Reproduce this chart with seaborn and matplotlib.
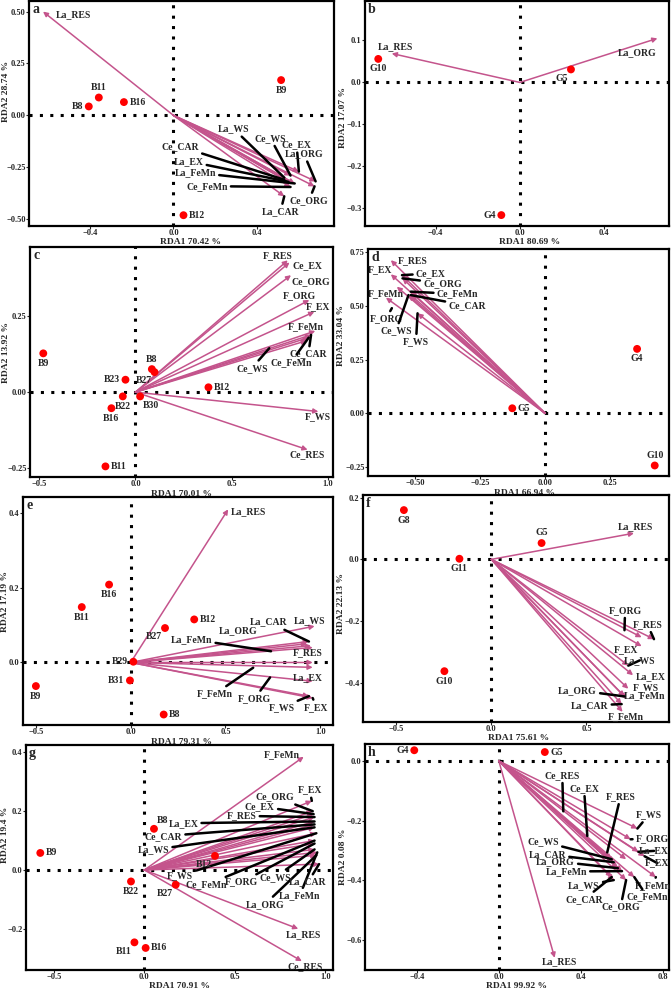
import matplotlib
matplotlib.use('Agg')
import matplotlib.pyplot as plt
import seaborn as sns
import pandas as pd

sns.set_style('white')
plt.rcParams['font.family'] = ['Liberation Serif', 'DejaVu Serif']
plt.rcParams['font.weight'] = 'bold'

ARROW = '#C4548C'

# ---------------- data ----------------
# panel a
a_sites = ['B8', 'B11', 'B16', 'B9', 'B12']
a_site_x = [-0.405, -0.357, -0.237, 0.515, 0.048]
a_site_y = [0.043, 0.086, 0.064, 0.170, -0.481]
a_vars = ['La_RES', 'La_WS', 'Ce_WS', 'Ce_EX', 'La_ORG', 'Ce_CAR', 'La_EX', 'La_FeMn', 'Ce_FeMn', 'Ce_ORG', 'La_CAR']
a_var_x = [-0.624, 0.53, 0.56, 0.60, 0.68, 0.53, 0.55, 0.58, 0.56, 0.675, 0.53]
a_var_y = [0.50, -0.30, -0.29, -0.271, -0.318, -0.31, -0.32, -0.328, -0.345, -0.342, -0.39]

# panel b
b_sites = ['G10', 'G5', 'G4']
b_site_x = [-0.673, 0.243, -0.088]
b_site_y = [0.056, 0.031, -0.316]
b_vars = ['La_RES', 'La_ORG']
b_var_x = [-0.609, 0.654]
b_var_y = [0.069, 0.105]

# panel c
c_sites = ['B9', 'B8', 'B27', 'B23', 'B12', 'B22', 'B30', 'B16', 'B11']
c_site_x = [-0.479, 0.085, 0.099, -0.052, 0.379, -0.066, 0.024, -0.125, -0.156]
c_site_y = [0.128, 0.076, 0.066, 0.041, 0.016, -0.014, -0.014, -0.053, -0.245]
c_vars = ['F_RES', 'Ce_EX', 'Ce_ORG', 'F_ORG', 'F_EX', 'F_FeMn', 'Ce_CAR', 'Ce_FeMn', 'Ce_WS', 'F_WS', 'Ce_RES']
c_var_x = [0.791, 0.80, 0.808, 0.903, 0.929, 0.934, 0.912, 0.90, 0.89, 0.95, 0.894]
c_var_y = [0.435, 0.428, 0.386, 0.304, 0.265, 0.202, 0.189, 0.18, 0.17, -0.064, -0.19]

# panel d
d_sites = ['G5', 'G4', 'G10']
d_site_x = [-0.126, 0.355, 0.423]
d_site_y = [0.023, 0.30, -0.244]
d_vars = ['F_RES', 'F_EX', 'Ce_EX', 'Ce_ORG', 'F_FeMn', 'Ce_FeMn', 'Ce_CAR', 'F_ORG', 'Ce_WS', 'F_WS']
d_var_x = [-0.594, -0.594, -0.551, -0.549, -0.571, -0.517, -0.517, -0.613, -0.526, -0.491]
d_var_y = [0.714, 0.648, 0.644, 0.629, 0.59, 0.567, 0.551, 0.539, 0.551, 0.466]

# panel e
e_sites = ['B16', 'B11', 'B27', 'B12', 'B29', 'B31', 'B9', 'B8']
e_site_x = [-0.114, -0.258, 0.181, 0.335, 0.014, -0.004, -0.5, 0.174]
e_site_y = [0.208, 0.148, 0.092, 0.115, 0.002, -0.048, -0.063, -0.139]
e_vars = ['La_RES', 'La_WS', 'La_CAR', 'La_ORG', 'La_FeMn', 'F_RES', 'F_FeMn', 'F_ORG', 'La_EX', 'F_WS', 'F_EX']
e_var_x = [0.514, 0.97, 0.94, 0.93, 0.95, 0.96, 0.96, 0.96, 0.96, 0.94, 0.96]
e_var_y = [0.409, 0.097, 0.056, 0.05, 0.045, 0.04, 0.0, -0.013, -0.05, -0.09, -0.095]

# panel f
f_sites = ['G8', 'G5', 'G11', 'G10']
f_site_x = [-0.46, 0.264, -0.168, -0.247]
f_site_y = [0.16, 0.053, 0.002, -0.363]
f_vars = ['La_RES', 'F_ORG', 'F_RES', 'F_EX', 'La_WS', 'La_EX', 'F_WS', 'La_FeMn', 'La_ORG', 'La_CAR', 'F_FeMn']
f_var_x = [0.75, 0.79, 0.855, 0.79, 0.72, 0.745, 0.72, 0.71, 0.70, 0.685, 0.69]
f_var_y = [0.085, -0.253, -0.259, -0.282, -0.345, -0.376, -0.42, -0.452, -0.445, -0.47, -0.495]

# panel g
g_sites = ['B8', 'B9', 'B12', 'B22', 'B27', 'B11', 'B16']
g_site_x = [0.053, -0.575, 0.39, -0.074, 0.173, -0.055, 0.007]
g_site_y = [0.14, 0.058, 0.048, -0.039, -0.05, -0.246, -0.265]
g_vars = ['F_FeMn', 'F_EX', 'Ce_ORG', 'Ce_EX', 'F_RES', 'La_EX', 'Ce_CAR', 'La_WS', 'F_WS', 'Ce_FeMn',
          'F_ORG', 'Ce_WS', 'La_FeMn', 'La_ORG', 'La_CAR', 'La_RES', 'Ce_RES']
g_var_x = [0.88, 0.925, 0.93, 0.935, 0.94, 0.94, 0.94, 0.94, 0.95, 0.94, 0.94, 0.94, 0.955, 0.95, 0.965, 0.85, 0.87]
g_var_y = [0.385, 0.235, 0.2, 0.19, 0.18, 0.165, 0.155, 0.145, 0.125, 0.10, 0.09, 0.07, 0.06, 0.05, 0.02, -0.20, -0.31]

# panel h
h_sites = ['G4', 'G5']
h_site_x = [-0.412, 0.224]
h_site_y = [0.036, 0.03]
h_vars = ['Ce_RES', 'Ce_EX', 'F_RES', 'F_WS', 'F_ORG', 'La_EX', 'F_EX', 'F_FeMn', 'Ce_FeMn', 'Ce_ORG',
          'Ce_CAR', 'La_WS', 'La_FeMn', 'La_ORG', 'La_CAR', 'Ce_WS', 'La_RES']
h_var_x = [0.56, 0.58, 0.62, 0.675, 0.642, 0.68, 0.71, 0.765, 0.66, 0.62, 0.55, 0.56, 0.60, 0.58, 0.56, 0.55, 0.272]
h_var_y = [-0.34, -0.36, -0.33, -0.227, -0.263, -0.305, -0.32, -0.39, -0.39, -0.40, -0.39, -0.40, -0.37, -0.36,
           -0.34, -0.33, -0.661]

# ---------------- layout (label placement, frames) ----------------
# site label side
a_site_pos = {'B8': 'left', 'B11': 'above', 'B16': 'right', 'B9': 'below', 'B12': 'right'}
b_site_pos = {'G10': 'below', 'G5': 'below_left', 'G4': 'left'}
c_site_pos = {'B9': 'below', 'B8': 'above', 'B27': 'below_left', 'B23': 'left', 'B12': 'right',
              'B22': 'below', 'B30': 'below_right', 'B16': 'below', 'B11': 'right'}
d_site_pos = {'G5': 'right', 'G4': 'below', 'G10': 'above'}
e_site_pos = {'B16': 'below', 'B11': 'below', 'B27': 'below_left', 'B12': 'right', 'B29': 'left',
              'B31': 'left', 'B9': 'below', 'B8': 'right'}
f_site_pos = {'G8': 'below', 'G5': 'above', 'G11': 'below', 'G10': 'below'}
g_site_pos = {'B8': 'above_right', 'B9': 'right', 'B12': 'below_left', 'B22': 'below', 'B27': 'below_left',
              'B11': 'below_left', 'B16': 'right'}
h_site_pos = {'G4': 'left', 'G5': 'right'}

# arrow label: (x, y, leader?, optional leader end)
a_lab = {'La_RES': (-0.48, 0.485, False), 'La_WS': (0.288, -0.065, True), 'Ce_WS': (0.464, -0.11, True),
         'Ce_EX': (0.589, -0.142, True), 'La_ORG': (0.624, -0.185, True), 'Ce_CAR': (0.032, -0.15, True),
         'La_EX': (0.072, -0.221, True), 'La_FeMn': (0.104, -0.275, True), 'Ce_FeMn': (0.16, -0.341, True),
         'Ce_ORG': (0.648, -0.41, True), 'La_CAR': (0.512, -0.463, True)}
b_lab = {'La_RES': (-0.59, 0.085, False), 'La_ORG': (0.558, 0.072, False)}
c_lab = {'F_RES': (0.737, 0.452, False), 'Ce_EX': (0.893, 0.417, False), 'Ce_ORG': (0.91, 0.364, False),
         'F_ORG': (0.851, 0.318, False), 'F_EX': (0.946, 0.282, False), 'F_FeMn': (0.886, 0.216, False),
         'Ce_CAR': (0.898, 0.126, True), 'Ce_FeMn': (0.808, 0.099, True),
         'Ce_WS': (0.604, 0.079, True, (0.695, 0.145)), 'F_WS': (0.946, -0.082, False),
         'Ce_RES': (0.894, -0.206, False)}
d_lab = {'F_RES': (-0.509, 0.711, False), 'F_EX': (-0.637, 0.668, False), 'Ce_EX': (-0.44, 0.652, True),
         'Ce_ORG': (-0.395, 0.606, True), 'F_FeMn': (-0.613, 0.559, False), 'Ce_FeMn': (-0.337, 0.556, True),
         'Ce_CAR': (-0.30, 0.502, True), 'F_ORG': (-0.613, 0.44, True, (-0.59, 0.49)),
         'Ce_WS': (-0.574, 0.384, True), 'F_WS': (-0.497, 0.334, True)}
e_lab = {'La_RES': (0.62, 0.404, False), 'La_WS': (0.944, 0.113, False), 'La_CAR': (0.725, 0.108, True),
         'La_ORG': (0.567, 0.086, False), 'La_FeMn': (0.321, 0.062, True, (0.74, 0.03)),
         'F_RES': (0.935, 0.026, False), 'F_FeMn': (0.444, -0.084, True, (0.646, -0.014)),
         'F_ORG': (0.654, -0.096, True, (0.735, -0.04)), 'La_EX': (0.935, -0.041, False),
         'F_WS': (0.795, -0.12, True), 'F_EX': (0.979, -0.12, True)}
f_lab = {'La_RES': (0.759, 0.105, False), 'F_ORG': (0.703, -0.165, True, (0.70, -0.23)),
         'F_RES': (0.82, -0.211, True), 'F_EX': (0.706, -0.293, False), 'La_WS': (0.78, -0.328, True),
         'La_EX': (0.837, -0.382, False), 'F_WS': (0.811, -0.417, False), 'La_FeMn': (0.803, -0.444, False),
         'La_ORG': (0.453, -0.425, True), 'La_CAR': (0.517, -0.474, True), 'F_FeMn': (0.706, -0.512, False)}
g_lab = {'F_FeMn': (0.757, 0.391, False), 'F_EX': (0.913, 0.272, True), 'Ce_ORG': (0.721, 0.249, True),
         'Ce_EX': (0.638, 0.216, True), 'F_RES': (0.537, 0.184, True), 'La_EX': (0.215, 0.159, True),
         'Ce_CAR': (0.105, 0.115, True), 'La_WS': (0.05, 0.069, True), 'F_WS': (0.197, -0.019, True),
         'Ce_FeMn': (0.344, -0.05, True), 'F_ORG': (0.537, -0.041, True), 'Ce_WS': (0.721, -0.025, True),
         'La_CAR': (0.904, -0.041, True), 'La_FeMn': (0.858, -0.087, True), 'La_ORG': (0.665, -0.117, True),
         'La_RES': (0.877, -0.22, False), 'Ce_RES': (0.886, -0.327, False)}
h_lab = {'Ce_RES': (0.309, -0.048, True, (0.314, -0.169)), 'Ce_EX': (0.415, -0.092, True, (0.431, -0.252)),
         'F_RES': (0.593, -0.119, True, (0.528, -0.307)), 'F_WS': (0.732, -0.18, True),
         'F_ORG': (0.748, -0.26, True), 'La_EX': (0.756, -0.302, True), 'F_EX': (0.772, -0.343, True),
         'F_FeMn': (0.748, -0.418, True), 'Ce_FeMn': (0.724, -0.457, True), 'Ce_ORG': (0.593, -0.49, True),
         'Ce_CAR': (0.415, -0.465, True), 'La_WS': (0.415, -0.418, True), 'La_FeMn': (0.328, -0.371, True),
         'La_ORG': (0.276, -0.337, True), 'La_CAR': (0.236, -0.313, True), 'Ce_WS': (0.216, -0.271, True),
         'La_RES': (0.293, -0.675, False)}

# frame = (left, top, right, bottom) in pixels; xlab = x fraction of the x title;
# ylab = (px left of frame, y fraction)
panels = [
    dict(letter='a', frame=(29, 1, 334, 226), xlim=(-0.691, 0.768), ylim=(-0.533, 0.551),
         xt=[-0.4, 0.0, 0.4], xf='{:.1f}', yt=[-0.5, -0.25, 0.0, 0.25, 0.5], yf='{:.2f}',
         xl='RDA1 70.42 %', yl='RDA2 28.74 %', xlab=0.53, ylab=(23, 0.6),
         sites=(a_sites, a_site_x, a_site_y, a_site_pos), vars=(a_vars, a_var_x, a_var_y, a_lab)),
    dict(letter='b', frame=(365, 1, 669, 226), xlim=(-0.736, 0.709), ylim=(-0.342, 0.194),
         xt=[-0.4, 0.0, 0.4], xf='{:.1f}', yt=[-0.3, -0.2, -0.1, 0.0, 0.1], yf='{:.1f}',
         xl='RDA1 80.69 %', yl='RDA2 17.07 %', xlab=0.54, ylab=(22, 0.48),
         sites=(b_sites, b_site_x, b_site_y, b_site_pos), vars=(b_vars, b_var_x, b_var_y, b_lab)),
    dict(letter='c', frame=(30, 247, 333, 477), xlim=(-0.548, 1.026), ylim=(-0.28, 0.479),
         xt=[-0.5, 0.0, 0.5, 1.0], xf='{:.1f}', yt=[-0.25, 0.0, 0.25], yf='{:.2f}',
         xl='RDA1 70.01 %', yl='RDA2 13.92 %', xlab=0.5, ylab=(24, 0.54),
         sites=(c_sites, c_site_x, c_site_y, c_site_pos), vars=(c_vars, c_var_x, c_var_y, c_lab)),
    dict(letter='d', frame=(368, 249, 669, 476), xlim=(-0.682, 0.478), ylim=(-0.293, 0.766),
         xt=[-0.5, -0.25, 0.0, 0.25], xf='{:.2f}', yt=[-0.25, 0.0, 0.25, 0.5, 0.75], yf='{:.2f}',
         xl='RDA1 66.94 %', yl='RDA2 33.04 %', xlab=0.52, ylab=(27, 0.62),
         sites=(d_sites, d_site_x, d_site_y, d_site_pos), vars=(d_vars, d_var_x, d_var_y, d_lab)),
    dict(letter='e', frame=(23, 497, 333, 725), xlim=(-0.568, 1.067), ylim=(-0.167, 0.442),
         xt=[-0.5, 0.0, 0.5, 1.0], xf='{:.1f}', yt=[0.0, 0.2, 0.4], yf='{:.1f}',
         xl='RDA1 79.31 %', yl='RDA2 17.19 %', xlab=0.51, ylab=(18, 0.54),
         sites=(e_sites, e_site_x, e_site_y, e_site_pos), vars=(e_vars, e_var_x, e_var_y, e_lab)),
    dict(letter='f', frame=(363, 495, 669, 722), xlim=(-0.675, 0.934), ylim=(-0.528, 0.209),
         xt=[-0.5, 0.0, 0.5], xf='{:.1f}', yt=[-0.4, -0.2, 0.0, 0.2], yf='{:.1f}',
         xl='RDA1 75.61 %', yl='RDA2 22.13 %', xlab=0.51, ylab=(22, 0.52),
         sites=(f_sites, f_site_x, f_site_y, f_site_pos), vars=(f_vars, f_var_x, f_var_y, f_lab)),
    dict(letter='g', frame=(26, 745, 333, 970), xlim=(-0.654, 1.042), ylim=(-0.34, 0.425),
         xt=[-0.5, 0.0, 0.5, 1.0], xf='{:.1f}', yt=[-0.2, 0.0, 0.2, 0.4], yf='{:.1f}',
         xl='RDA1 70.91 %', yl='RDA2 19.4 %', xlab=0.5, ylab=(21, 0.6),
         sites=(g_sites, g_site_x, g_site_y, g_site_pos), vars=(g_vars, g_var_x, g_var_y, g_lab)),
    dict(letter='h', frame=(365, 744, 669, 970), xlim=(-0.652, 0.829), ylim=(-0.702, 0.057),
         xt=[-0.4, 0.0, 0.4, 0.8], xf='{:.1f}', yt=[-0.6, -0.4, -0.2, 0.0], yf='{:.1f}',
         xl='RDA1 99.92 %', yl='RDA2 0.08 %', xlab=0.5, ylab=(22, 0.5),
         sites=(h_sites, h_site_x, h_site_y, h_site_pos), vars=(h_vars, h_var_x, h_var_y, h_lab)),
]

SIDE = {'above': (0, 4, 'center', 'bottom'), 'below': (0, -4, 'center', 'top'),
        'right': (4, 0, 'left', 'center'), 'left': (-4, 0, 'right', 'center'),
        'below_left': (-2, -3, 'right', 'top'), 'below_right': (2, -3, 'left', 'top'),
        'above_right': (2, 3, 'left', 'bottom')}

W, H = 672, 993
fig = plt.figure(figsize=(W / 100, H / 100), dpi=100)


def fmt(v, f):
    s = f.format(v)
    if s.startswith('-0') and float(s) == 0:
        s = s[1:]
    return s.replace('-', '\u2212')


for p in panels:
    l, t, r, b = p['frame']
    ax = fig.add_axes([l / W, 1 - b / H, (r - l) / W, (b - t) / H])
    ax.set_xlim(*p['xlim'])
    ax.set_ylim(*p['ylim'])

    # dotted zero lines
    ax.axhline(0, color='black', ls=(0, (1, 2.4)), lw=2.2, zorder=1)
    ax.axvline(0, color='black', ls=(0, (1, 2.4)), lw=2.2, zorder=1)

    # arrows + labels
    names, vx, vy, lab = p['vars']
    for n, x, y in zip(names, vx, vy):
        ax.annotate('', xy=(x, y), xytext=(0, 0),
                    arrowprops=dict(arrowstyle='-|>', color=ARROW, lw=1.1, mutation_scale=7,
                                    shrinkA=0, shrinkB=0), zorder=3)
    for n, x, y in zip(names, vx, vy):
        spec = lab[n]
        lx, ly, lead = spec[0], spec[1], spec[2]
        if lead:
            end = spec[3] if len(spec) > 3 else (x, y)
            ax.annotate(n, xy=end, xytext=(lx, ly), ha='center', va='center', fontsize=7,
                        fontweight='bold', zorder=4,
                        arrowprops=dict(arrowstyle='-', color='black', lw=1.8,
                                        shrinkA=0, shrinkB=0))
        else:
            ax.text(lx, ly, n, ha='center', va='center', fontsize=7, fontweight='bold', zorder=4)

    # sites
    sn, sx, sy, spos = p['sites']
    df = pd.DataFrame({'site': sn, 'x': sx, 'y': sy})
    sns.scatterplot(data=df, x='x', y='y', ax=ax, color='red', s=32, edgecolor='none',
                    zorder=5, legend=False)
    for n, x, y in zip(sn, sx, sy):
        dx, dy, ha, va = SIDE[spos[n]]
        ax.annotate(n, xy=(x, y), xytext=(dx, dy), textcoords='offset points', ha=ha, va=va,
                    fontsize=7, fontweight='bold', zorder=6)

    ax.set_xticks(p['xt'], [fmt(v, p['xf']) for v in p['xt']])
    ax.set_yticks(p['yt'], [fmt(v, p['yf']) for v in p['yt']])
    ax.tick_params(length=2, width=0.8, pad=0.5, labelsize=6, direction='out',
                   bottom=True, left=True)
    for lbl in ax.get_xticklabels() + ax.get_yticklabels():
        lbl.set_fontweight('bold')
    ax.set_xlabel(p['xl'], fontsize=6.8, fontweight='bold', va='top')
    ax.set_ylabel(p['yl'], fontsize=6.8, fontweight='bold', va='center')
    wpx, hpx = r - l, b - t
    ax.xaxis.set_label_coords(p['xlab'], -12.5 / hpx)
    ax.yaxis.set_label_coords(-p['ylab'][0] / wpx, p['ylab'][1])
    for sp in ax.spines.values():
        sp.set_linewidth(1.6)
        sp.set_color('black')
    ax.text(0.01, 0.99, p['letter'], transform=ax.transAxes, ha='left', va='top',
            fontsize=10, fontweight='bold')

fig.savefig('out.png', dpi=100)
